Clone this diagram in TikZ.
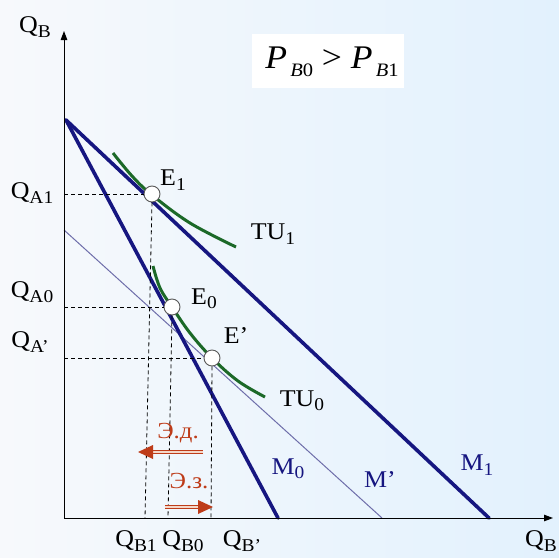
\documentclass[tikz,border=0pt]{standalone}
\usepackage{fontspec}
\setmainfont[FakeStretch=1.08]{Liberation Serif}
\usetikzlibrary{arrows.meta}
\definecolor{navy}{RGB}{22,22,128}
\definecolor{thinline}{RGB}{110,110,170}
\definecolor{tugreen}{RGB}{28,105,40}
\definecolor{effred}{RGB}{190,60,25}
\definecolor{efflight}{RGB}{245,215,200}
\definecolor{bgleft}{RGB}{247,249,252}
\definecolor{bgright}{RGB}{226,241,253}
\newcommand\mysub[1]{\raisebox{-0.4ex}{\fontsize{18}{18}\selectfont #1}}
\begin{document}
\begin{tikzpicture}[x=1pt,y=-1pt,
  lab/.style={font=\fontsize{24}{26}\selectfont, inner sep=0pt, text=black},
  mlab/.style={font=\fontsize{24}{26}\selectfont, inner sep=0pt, text=navy},
  elab/.style={font=\fontsize{23}{24}\selectfont, inner sep=0pt, text=effred},
  axis/.style={line width=1pt, -{Triangle[length=9pt,width=6.5pt]}},
  budget/.style={navy, line width=3.6pt, line cap=round},
  thinbudget/.style={thinline, line width=1pt},
  tucurve/.style={tugreen, line width=3pt},
  dsh/.style={black, line width=0.8pt, dash pattern=on 4pt off 3pt},
  eqpt/.style={circle, draw=black!65, fill=white, line width=0.9pt, minimum size=16pt, inner sep=0pt},
  shaft/.style={effred, line width=1.1pt, double=efflight, double distance=1.6pt}
]
\useasboundingbox (0,0) rectangle (559,557);
\shade[left color=bgleft, right color=bgright] (0,0) rectangle (559,557);

% title box
\fill[white] (252,34) rectangle (404,88);
\node[inner sep=0pt] (title) at (332,62) {\fontsize{33}{36}\selectfont\itshape P\raisebox{-0.55ex}{\fontsize{19}{19}\selectfont\,B\upshape 0}\ \upshape{>}\ \itshape P\raisebox{-0.55ex}{\fontsize{19}{19}\selectfont\,B\upshape 1}};

% coordinates
\coordinate (O) at (64,518);
\coordinate (ytop) at (64,31);
\coordinate (xend) at (553,518);
\coordinate (Y0) at (66,120);
\coordinate (M1x) at (489,518);
\coordinate (M0x) at (278,518);
\coordinate (Mpy) at (64,230);
\coordinate (Mpx) at (382,518);

% budget lines
\draw[thinbudget] (Mpy) -- (Mpx);
\draw[budget] (Y0) -- (M1x);
\draw[budget] (Y0) -- (M0x);

% indifference curves
\draw[tucurve] plot[smooth, tension=0.6] coordinates {(113,153) (132,176) (152,195) (190,223) (236,247)};
\draw[tucurve] plot[smooth, tension=0.6] coordinates {(153,266) (160,288) (172,307) (190,333) (212,358) (238,381) (265,397)};

% axes
\draw[axis] (O) -- (ytop);
\draw[axis] (O) -- (xend);

% equilibrium points
\node[eqpt] (E1) at (152,194) {};
\node[eqpt] (E0) at (172,307) {};
\node[eqpt] (Ep) at (212,358) {};

% dashed projections
\coordinate (qa1) at (64,194);
\coordinate (qa0) at (64,307);
\coordinate (qap) at (64,358);
\coordinate (qb1) at (145,518);
\coordinate (qb0) at (168,518);
\coordinate (qbp) at (211,518);
\draw[dsh] (qa1) -- (E1.west);
\draw[dsh] (qa0) -- (E0.west);
\draw[dsh] (qap) -- (Ep.west);
\draw[dsh] (E1.south) -- (qb1);
\draw[dsh] (E0.south) -- (qb0);
\draw[dsh] (Ep.south) -- (qbp);

% effect arrows
\coordinate (d1) at (203,452);
\coordinate (d2) at (151,452);
\coordinate (dtip) at (138,452);
\draw[shaft] (d1) -- (d2);
\fill[effred] (dtip) -- (153,445) -- (153,459) -- cycle;
\coordinate (z1) at (165,507);
\coordinate (z2) at (199,507);
\coordinate (ztip) at (213,507);
\draw[shaft] (z1) -- (z2);
\fill[effred] (ztip) -- (198,500) -- (198,514) -- cycle;
\node[elab] (ed) at (178,433) {Э.д.};
\node[elab] (ez) at (189,481) {Э.з.};

% labels
\node[lab] (lqbtop) at (35,27) {Q\mysub{B}};
\node[lab, anchor=east] (lqbx) at (557,541) {Q\mysub{B}};
\node[lab] (lqa1) at (32,193) {Q\mysub{A1}};
\node[lab] (lqa0) at (32,292) {Q\mysub{A0}};
\node[lab] (lqap) at (30,342) {Q\mysub{A’}};
\node[lab] (lqb1) at (136,541) {Q\mysub{B1}};
\node[lab] (lqb0) at (183,541) {Q\mysub{B0}};
\node[lab] (lqbp) at (242,541) {Q\mysub{B’}};
\node[lab] (le1) at (173,180) {E\mysub{1}};
\node[lab] (le0) at (204,299) {E\mysub{0}};
\node[lab] (lep) at (236,336) {E’};
\node[lab] (ltu1) at (273,234) {TU\mysub{1}};
\node[lab] (ltu0) at (302,401) {TU\mysub{0}};
\node[mlab] (lm0) at (288,469) {M\mysub{0}};
\node[mlab] (lmp) at (380,480) {M’};
\node[mlab] (lm1) at (477,465) {M\mysub{1}};
\end{tikzpicture}
\end{document}
